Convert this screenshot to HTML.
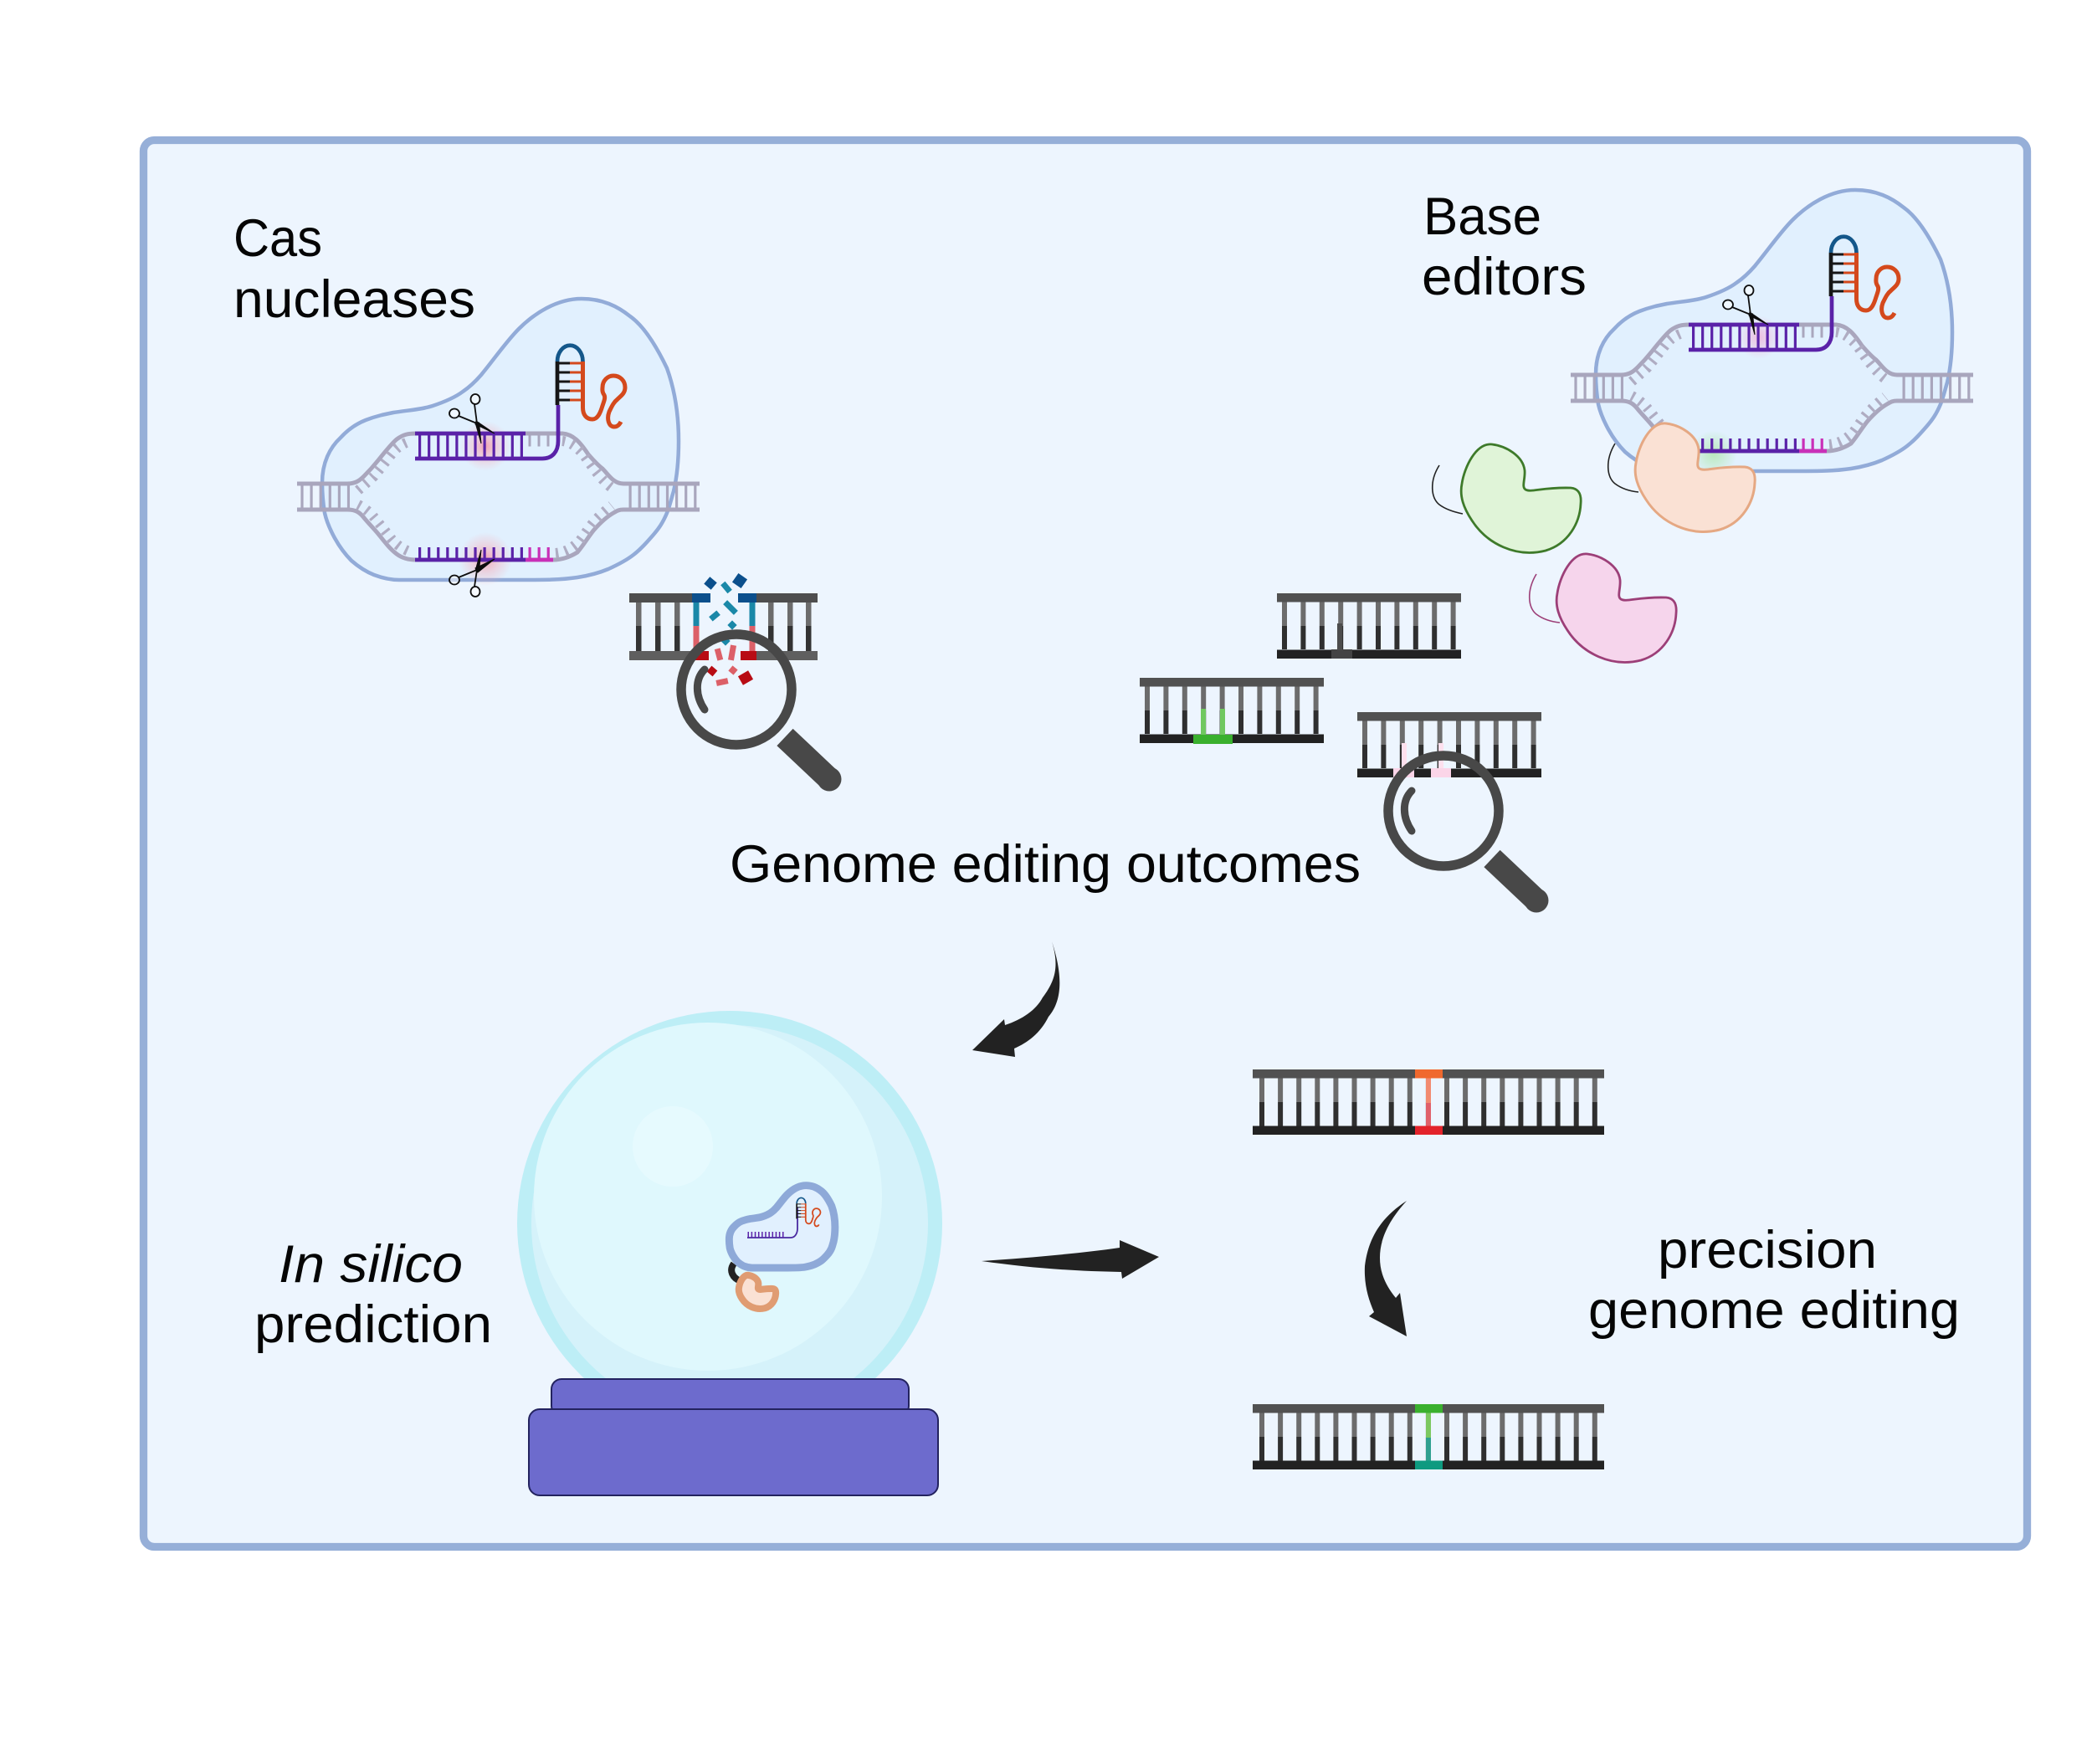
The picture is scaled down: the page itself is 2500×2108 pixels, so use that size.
<!DOCTYPE html>
<html>
<head>
<meta charset="utf-8">
<title>Genome editing diagram</title>
<style>
html,body{margin:0;padding:0;background:#fff;width:2500px;height:2108px;overflow:hidden}
svg{display:block}
text{font-family:"Liberation Sans",sans-serif;font-size:63px;fill:#050505}
</style>
</head>
<body>
<svg width="2500" height="2108" viewBox="0 0 2500 2108" xmlns="http://www.w3.org/2000/svg">
<defs>
<radialGradient id="gRed"><stop offset="0" stop-color="#f58a9a" stop-opacity=".75"/><stop offset=".5" stop-color="#f8a8b4" stop-opacity=".4"/><stop offset="1" stop-color="#f8a8b4" stop-opacity="0"/></radialGradient>
<radialGradient id="gPink"><stop offset="0" stop-color="#f4a0cc" stop-opacity=".6"/><stop offset="1" stop-color="#f4a0cc" stop-opacity="0"/></radialGradient>
<radialGradient id="gGreen"><stop offset="0" stop-color="#a8e8a0" stop-opacity=".7"/><stop offset="1" stop-color="#a8e8a0" stop-opacity="0"/></radialGradient>

<path id="blob" d="M385,577 C385,553 394,535 407,523 C417,512 427,506 437,502 C450,497 460,495 470,493 C490,490 505,489 517,485 C535,479 545,474 553,468 C562,462 568,456 575,448 C590,430 605,408 620,393 C638,375 665,357 695,357 C720,357 738,366 753,378 C770,390 785,415 797,440 C806,465 811,495 811,527 C811,550 809,570 805,587 C802,597 800,606 797,613 C792,625 787,632 780,640 C773,648 766,656 757,663 C748,670 738,675 727,680 C715,685 703,688 690,690 C670,693 650,693 620,693 L477,693 C465,693 455,690 447,687 C437,683 428,677 420,670 C412,662 405,652 400,643 C394,632 390,622 388,613 C386,601 385,590 385,577 Z"/>

<g id="hairpin" fill="none">
  <path d="M666,484 V432" stroke="#161616" stroke-width="4.700"/>
  <path d="M666,432 A15,19 0 0 1 696.500,432" stroke="#14578a" stroke-width="4.700"/>
  <g stroke-width="3">
    <path d="M666,434 H681 M666,445 H681 M666,456 H681 M666,467 H681 M666,478 H681" stroke="#161616"/>
    <path d="M681,434 H697 M681,445 H697 M681,456 H697 M681,467 H697 M681,478 H697" stroke="#d4491c"/>
  </g>
  <path d="M696.500,432 V487 C696.500,496 701,501 708,501 C714,501 717,494 719,488 C721,481 724,476 722,472 C719,468 720,465 720,463 C720,455 726,449 733,449 C741,449 747,455 747,463 C747,470 742,473 738,477 C733,481 731,486 728,492 C725,500 727,510 734,510 C737,510 740,508 742,504" stroke="#d4491c" stroke-width="5"/>
</g>

<g id="dna" fill="none">
  <g stroke="#a9a6bd">
    <path d="M355,578 H415 C425,578 430,574 435,569 C442,562 448,555 452,550 C460,540 468,530 474,525 C482,519 488,518 497,518 H672 C685,519 693,528 703,543 C710,551 716,557 720,560 C727,567 733,578 745,578 H836" stroke-width="5"/>
    <path d="M355,609 H415 C425,609 430,612 436,620 C442,627 447,632 452,638 C460,648 466,656 474,662 C482,668 490,669 497,669 H661 C672,669 682,665 690,660 C697,652 704,640 710,633 C718,624 726,617 733,613 C738,610 740,609 745,609 H836" stroke-width="5"/>
    <line x1="359.400" y1="594" x2="418" y2="594" stroke-width="30" stroke-dasharray="3.200 7.900"/>
    <line x1="751.500" y1="594" x2="833" y2="594" stroke-width="30" stroke-dasharray="3.200 7.900"/>
    <g stroke-width="12" stroke-dasharray="3.200 8" stroke="#afacc2">
      <path d="M428,586 C436,579 442,574 447,569 C453,562 460,553 467,544 C473,536 480,530 492,527"/>
      <path d="M672,527 C682,528 690,535 697,543 C703,551 712,565 722,575 C725,578 728,581 731,583"/>
      <path d="M428,603 C434,606 442,612 446,617 C452,624 460,634 467,643 C473,650 480,656 492,660"/>
      <path d="M664,661 C676,660 685,654 693,646 C700,637 705,628 713,620 C718,615 726,608 731,604"/>
    </g>
    <line x1="631.500" y1="527" x2="657" y2="527" stroke-width="13" stroke-dasharray="3 8"/>
  </g>
  <!-- guide RNA -->
  <line x1="500" y1="533" x2="625" y2="533" stroke="#5a22a8" stroke-width="30" stroke-dasharray="3.200 7.870"/>
  <path d="M496,518 H628" stroke="#5a22a8" stroke-width="4.700"/>
  <path d="M496,548 H648 C660,548 667,540 667,527 V484" stroke="#5a22a8" stroke-width="4.700"/>
  <use href="#hairpin"/>
</g>

<g id="lowerStrand" fill="none">
  <line x1="500" y1="661.500" x2="628" y2="661.500" stroke="#5a22a8" stroke-width="15" stroke-dasharray="3.200 7.870"/>
  <line x1="631.500" y1="661.500" x2="657" y2="661.500" stroke="#c930b8" stroke-width="15" stroke-dasharray="3.200 7.870"/>
  <path d="M496,669 H628" stroke="#5a22a8" stroke-width="4.700"/>
  <path d="M628,669 H661" stroke="#c930b8" stroke-width="4.700"/>
</g>

<g id="scissorsTop" fill="none" stroke="#0d0d0d">
  <ellipse cx="568" cy="477" rx="5.500" ry="6" stroke-width="1.800" fill="#fff" fill-opacity=".5"/>
  <ellipse cx="543" cy="494" rx="6" ry="5.500" stroke-width="1.800" fill="#fff" fill-opacity=".5"/>
  <path d="M567,483 L570,506" stroke-width="1.800"/>
  <path d="M548,497 L570,506" stroke-width="1.800"/>
  <path d="M568,505 L575,530 L572.500,505 Z" fill="#0d0d0d" stroke-width="1"/>
  <path d="M569,503 L591,518 L568,507 Z" fill="#0d0d0d" stroke-width="1"/>
</g>
<g id="scissorsBottom" fill="none" stroke="#0d0d0d">
  <ellipse cx="568" cy="707" rx="5.500" ry="6" stroke-width="1.800" fill="#fff" fill-opacity=".5"/>
  <ellipse cx="543" cy="693" rx="6" ry="5.500" stroke-width="1.800" fill="#fff" fill-opacity=".5"/>
  <path d="M567,701 L570,681" stroke-width="1.800"/>
  <path d="M548,690 L570,681" stroke-width="1.800"/>
  <path d="M568,682 L575,657 L572.500,682 Z" fill="#0d0d0d" stroke-width="1"/>
  <path d="M568,679 L591,668 L571,684 Z" fill="#0d0d0d" stroke-width="1"/>
</g>

<path id="protein" d="M1991,506 C2008,508 2028,520 2030,537 C2031,547 2026,557 2031,560 C2038,564 2050,557 2085,558 C2095,559 2098,566 2097,577 C2096,600 2082,625 2055,633 C2020,642 1985,625 1967,597 C1957,582 1952,568 1955,553 C1958,533 1972,504 1991,506 Z"/>

<g id="lad10">
  <line x1="6" y1="24.500" x2="214" y2="24.500" stroke="#6c6c6c" stroke-width="29" stroke-dasharray="6 16.400"/>
  <line x1="6" y1="53" x2="214" y2="53" stroke="#2f2f2f" stroke-width="28" stroke-dasharray="6 16.400"/>
  <rect x="0" y="0" width="220" height="10.500" fill="#515151"/>
  <rect x="0" y="67.500" width="220" height="10.500" fill="#222"/>
</g>
<g id="lad19">
  <line x1="8" y1="24.500" x2="412" y2="24.500" stroke="#6c6c6c" stroke-width="29" stroke-dasharray="6 16.100"/>
  <line x1="8" y1="54" x2="412" y2="54" stroke="#2f2f2f" stroke-width="30" stroke-dasharray="6 16.100"/>
  <rect x="0" y="0" width="420" height="10.500" fill="#515151"/>
  <rect x="0" y="67.500" width="420" height="10.500" fill="#222"/>
</g>
<g id="lens">
  <circle cx="880" cy="824" r="66" fill="none" stroke="#484848" stroke-width="11.500"/>
  <path d="M842,848 C831,832 830,812 842,800" fill="none" stroke="#484848" stroke-width="9" stroke-linecap="round"/>
  <line x1="938" y1="881" x2="991" y2="931" stroke="#484848" stroke-width="28"/>
  <circle cx="991" cy="931" r="14.500" fill="#484848"/>
</g>
</defs>

<rect width="2500" height="2108" fill="#fff"/>
<!-- frame -->
<rect x="171.500" y="167.500" width="2251" height="1681" rx="13" fill="#edf5fe" stroke="#96afd8" stroke-width="9.300"/>

<!-- Cas nuclease complex -->
<use href="#blob" fill="#e1f0fe" stroke="#92abd8" stroke-width="4.500"/>
<circle cx="580" cy="533" r="30" fill="url(#gRed)"/>
<circle cx="580" cy="668" r="32" fill="url(#gRed)"/>
<use href="#dna"/>
<use href="#lowerStrand"/>
<use href="#scissorsTop"/>
<use href="#scissorsBottom"/>

<!-- Base editor complex -->
<g transform="translate(1522,-130)">
  <use href="#blob" fill="#e1f0fe" stroke="#92abd8" stroke-width="4.500"/>
  <circle cx="580" cy="533" r="26" fill="url(#gPink)"/>
  <circle cx="526" cy="672" r="28" fill="url(#gGreen)"/>
  <use href="#dna"/>
  <use href="#lowerStrand"/>
  <use href="#scissorsTop"/>
</g>

<!-- Deaminase proteins -->
<path d="M1930,530 C1918,550 1920,570 1930,578 C1938,584 1948,587 1958,588" fill="none" stroke="#222" stroke-width="1.600"/>
<use href="#protein" fill="#fae1d4" stroke="#e5a883" stroke-width="3"/>
<g transform="translate(-208,25)">
  <path d="M1928,531 C1916,550 1918,570 1928,578 C1936,584 1946,587 1956,589" fill="none" stroke="#222" stroke-width="1.600"/>
  <use href="#protein" fill="#e0f4d8" stroke="#3e7a2a" stroke-width="2.800"/>
</g>
<g transform="translate(-94,156)">
  <path d="M1930,530 C1918,550 1920,570 1930,578 C1938,584 1948,587 1958,588" fill="none" stroke="#9c3f78" stroke-width="1.600"/>
  <use href="#protein" fill="#f6d5ec" stroke="#9c3f78" stroke-width="2.800"/>
</g>

<!-- Base editor outcome ladders -->
<use href="#lad10" transform="translate(1526,709)"/>
<rect x="1591" y="776" width="25" height="11" fill="#444"/>
<rect x="1598" y="745" width="6" height="32" fill="#4c4c4c"/>

<use href="#lad10" transform="translate(1362,810)"/>
<rect x="1435" y="847" width="6" height="33" fill="#70c860"/>
<rect x="1458" y="847" width="6" height="33" fill="#70c860"/>
<rect x="1426" y="878" width="47" height="11" fill="#3ab02e"/>

<use href="#lad10" transform="translate(1622,851)"/>
<rect x="1675" y="888" width="6" height="33" fill="#fde0ee"/>
<rect x="1719" y="888" width="6" height="33" fill="#fde0ee"/>
<rect x="1665" y="918" width="25" height="11" fill="#fbd5e8"/>
<rect x="1710" y="918" width="24" height="11" fill="#fbd5e8"/>
<use href="#lens" transform="translate(845,145)"/>

<!-- Damaged DNA -->
<g>
  <rect x="752" y="709" width="75" height="11" fill="#4e4e4e"/>
  <rect x="904" y="709" width="73" height="11" fill="#4e4e4e"/>
  <rect x="752" y="778" width="78" height="11" fill="#5f5f5f"/>
  <rect x="904" y="778" width="73" height="11" fill="#5f5f5f"/>
  <rect x="760" y="720" width="6.500" height="28" fill="#6c6c6c"/><rect x="760" y="748" width="6.500" height="30" fill="#333"/>
  <rect x="783" y="720" width="6.500" height="28" fill="#6c6c6c"/><rect x="783" y="748" width="6.500" height="30" fill="#333"/>
  <rect x="806" y="720" width="6.500" height="28" fill="#6c6c6c"/><rect x="806" y="748" width="6.500" height="30" fill="#333"/>
  <rect x="918" y="720" width="6.500" height="28" fill="#6c6c6c"/><rect x="918" y="748" width="6.500" height="30" fill="#333"/>
  <rect x="941" y="720" width="6.500" height="28" fill="#6c6c6c"/><rect x="941" y="748" width="6.500" height="30" fill="#333"/>
  <rect x="963" y="720" width="6.500" height="28" fill="#6c6c6c"/><rect x="963" y="748" width="6.500" height="30" fill="#333"/>
  <rect x="828.500" y="720" width="7" height="28" fill="#1a88a8"/><rect x="828.500" y="748" width="7" height="30" fill="#dc6068"/>
  <rect x="895.500" y="720" width="7" height="28" fill="#1a88a8"/><rect x="895.500" y="748" width="7" height="30" fill="#dc6068"/>
  <rect x="827" y="709" width="22" height="11" fill="#0b4f8c"/>
  <rect x="882" y="709" width="22" height="11" fill="#0b4f8c"/>
  <rect x="830" y="778" width="17" height="11" fill="#b80c14"/>
  <rect x="885" y="778" width="19" height="11" fill="#b80c14"/>
  <!-- fragments -->
  <rect x="-5.500" y="-5.500" width="11" height="11" fill="#0b4f8c" transform="translate(849,697) rotate(40)"/>
  <rect x="-6.500" y="-6.500" width="13" height="13" fill="#0b4f8c" transform="translate(884,694) rotate(35)"/>
  <rect x="-3.500" y="-6.500" width="7" height="13" fill="#1a88a8" transform="translate(868,702) rotate(-40)"/>
  <rect x="-3.500" y="-9" width="7" height="18" fill="#1a88a8" transform="translate(873,726) rotate(-45)"/>
  <rect x="-3.500" y="-6" width="7" height="12" fill="#1a88a8" transform="translate(854,736) rotate(50)"/>
  <rect x="-4" y="-4" width="8" height="8" fill="#1a88a8" transform="translate(875,747) rotate(45)"/>
  <rect x="-4" y="-4" width="8" height="8" fill="#1a88a8" transform="translate(867,766) rotate(45)"/>
  <rect x="-3.500" y="-7" width="7" height="14" fill="#dc6068" transform="translate(859,782) rotate(-15)"/>
  <rect x="-3.500" y="-9" width="7" height="18" fill="#dc6068" transform="translate(875,780) rotate(10)"/>
  <rect x="-4" y="-4" width="8" height="8" fill="#dc6068" transform="translate(876,801) rotate(40)"/>
  <rect x="-7" y="-3.500" width="14" height="7" fill="#dc6068" transform="translate(863,815) rotate(-12)"/>
  <rect x="-4.500" y="-4.500" width="9" height="9" fill="#b80c14" transform="translate(851,802) rotate(40)"/>
  <rect x="-7" y="-6" width="14" height="12" fill="#b80c14" transform="translate(891,810) rotate(-30)"/>
</g>
<use href="#lens"/>

<!-- Crystal ball -->
<circle cx="872" cy="1462" r="254" fill="#bdeef6"/>
<circle cx="872" cy="1462" r="237" fill="#d5f2fa"/>
<circle cx="846" cy="1430" r="208" fill="#dff8fd"/>
<circle cx="804" cy="1370" r="48" fill="#e6fafe"/>

<!-- Mini complex -->
<path d="M877,1510 C871,1518 875,1527 885,1531" fill="none" stroke="#222" stroke-width="8"/>
<g transform="translate(757,1312) scale(.297,.293)">
  <use href="#blob" fill="#e1f0fe" stroke="#8ea9d8" stroke-width="30"/>
</g>
<path d="M893,1479 H945 C950,1479 953,1474 953,1468 V1443" fill="none" stroke="#4a2aa0" stroke-width="1.800"/>
<line x1="893.500" y1="1475.500" x2="939" y2="1475.500" stroke="#5a22a8" stroke-width="7" stroke-dasharray="1.500 2.650"/>
<g transform="translate(719,1287) scale(.35)"><use href="#hairpin"/></g>
<g transform="translate(277,1367) scale(.31)">
  <use href="#protein" fill="#fae1d4" stroke="#e09c72" stroke-width="26"/>
</g>

<!-- Stand -->
<rect x="659" y="1648" width="427" height="44" rx="12" fill="#6d6bcd" stroke="#23235f" stroke-width="2"/>
<rect x="632" y="1684" width="489" height="103" rx="13" fill="#6d6bcd" stroke="#23235f" stroke-width="2"/>

<!-- Arrows -->
<path d="M1257,1125 C1270,1165 1270,1195 1253,1215 C1243,1235 1228,1246 1212,1253 L1213,1263 L1162,1255 L1200,1218 L1201,1225 C1222,1218 1238,1207 1246,1192 C1261,1172 1266,1155 1257,1125 Z" fill="#222"/>
<path d="M1173,1507 C1230,1503 1290,1498 1338,1491 L1338,1482 L1385,1502 L1341,1528 L1340,1520 C1280,1519 1230,1515 1173,1507 Z" fill="#222"/>
<path d="M1681,1435 C1650,1455 1635,1480 1631,1513 C1630,1535 1635,1552 1642,1568 L1636,1573 L1681,1597 L1673,1545 L1668,1551 C1655,1535 1649,1520 1649,1503 C1649,1480 1660,1458 1681,1435 Z" fill="#222"/>

<!-- Bottom ladders -->
<use href="#lad19" transform="translate(1497,1278)"/>
<rect x="1704" y="1288" width="6" height="30" fill="#f28a70"/>
<rect x="1704" y="1318" width="6" height="28" fill="#e0606a"/>
<rect x="1691" y="1278" width="33" height="10.500" fill="#f0692e"/>
<rect x="1691" y="1345.500" width="33" height="10.500" fill="#e3232b"/>

<use href="#lad19" transform="translate(1497,1678)"/>
<rect x="1704" y="1688" width="6" height="30" fill="#7cc860"/>
<rect x="1704" y="1718" width="6" height="28" fill="#30a090"/>
<rect x="1691" y="1678" width="33" height="10.500" fill="#3ab02e"/>
<rect x="1691" y="1745.500" width="33" height="10.500" fill="#0e9a80"/>

<!-- Labels -->
<text x="279" y="306" textLength="106" lengthAdjust="spacingAndGlyphs">Cas</text>
<text x="279" y="379" textLength="289" lengthAdjust="spacingAndGlyphs">nucleases</text>
<text x="1701" y="280" textLength="141" lengthAdjust="spacingAndGlyphs">Base</text>
<text x="1699" y="352" textLength="197" lengthAdjust="spacingAndGlyphs">editors</text>
<text x="872" y="1054" textLength="754" lengthAdjust="spacingAndGlyphs">Genome editing outcomes</text>
<text x="333" y="1532" textLength="220" lengthAdjust="spacingAndGlyphs" font-style="italic">In silico</text>
<text x="304" y="1604" textLength="284" lengthAdjust="spacingAndGlyphs">prediction</text>
<text x="1981" y="1515" textLength="262" lengthAdjust="spacingAndGlyphs">precision</text>
<text x="1898" y="1587" textLength="444" lengthAdjust="spacingAndGlyphs">genome editing</text>
</svg>
</body>
</html>
